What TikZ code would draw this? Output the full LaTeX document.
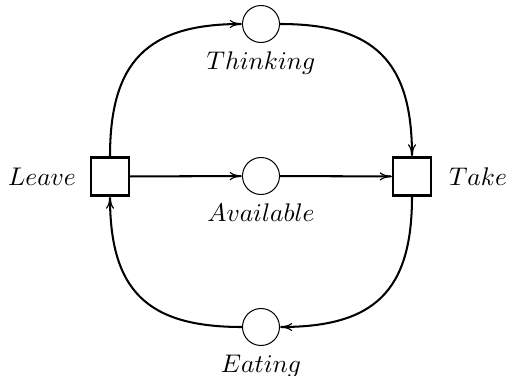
\documentclass[tikz,border=0pt]{standalone}
\usetikzlibrary{arrows.meta}
\begin{document}
\begin{tikzpicture}[x=0.392pt,y=-0.392pt,
  place/.style={circle,draw,line width=0.4pt,minimum size=14.5pt,inner sep=0pt},
  transition/.style={rectangle,draw,line width=0.8pt,minimum size=14.9pt,inner sep=0pt},
  arc/.style={line width=0.8pt,-{To[length=4.8pt,width=3.2pt,line width=0.45pt]}},
  lbl/.style={inner sep=0pt}]
\useasboundingbox (0,0) rectangle (507,376);
\node[transition] (leave) at (110,176.5) {};
\node[transition] (take) at (412,176.5) {};
\node[place,label={below:$Available$}] (avail) at (261,176) {};
\node[place,label={below:$Thinking$}] (think) at (261,24) {};
\node[place,label={below:$Eating$}] (eat) at (261,327) {};
\node[lbl] (leavelbl) at (42,176.5) {$Leave$};
\node[lbl] (takelbl) at (478,176.5) {$Take$};
\draw[arc] (leave) -- (avail);
\draw[arc] (avail) -- (take);
\draw[arc] (leave.north) to[out=90,in=180,looseness=1.3] (think.west);
\draw[arc] (think.east) to[out=0,in=90,looseness=1.3] (take.north);
\draw[arc] (take.south) to[out=-90,in=0,looseness=1.3] (eat.east);
\draw[arc] (eat.west) to[out=180,in=-90,looseness=1.3] (leave.south);
\end{tikzpicture}
\end{document}
